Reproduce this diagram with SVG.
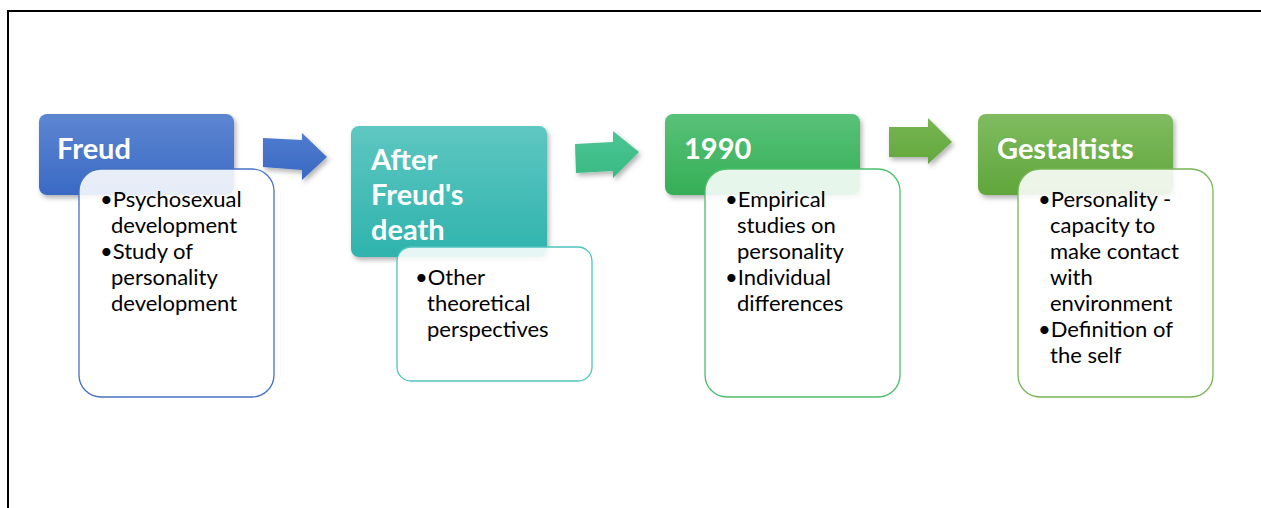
<svg xmlns="http://www.w3.org/2000/svg" width="1261" height="508" viewBox="0 0 1261 508">
<defs>
<linearGradient id="gBlue" x1="0" y1="0" x2="0" y2="1"><stop offset="0" stop-color="#5d86d1"/><stop offset="1" stop-color="#3a69c4"/></linearGradient>
<linearGradient id="gTeal" x1="0" y1="0" x2="0" y2="1"><stop offset="0" stop-color="#5ec7c1"/><stop offset="1" stop-color="#2fb3ad"/></linearGradient>
<linearGradient id="gGreen" x1="0" y1="0" x2="0" y2="1"><stop offset="0" stop-color="#58c278"/><stop offset="1" stop-color="#35ae57"/></linearGradient>
<linearGradient id="gLime" x1="0" y1="0" x2="0" y2="1"><stop offset="0" stop-color="#80bb60"/><stop offset="1" stop-color="#5fa63b"/></linearGradient>
<linearGradient id="aBlue" x1="0" y1="0" x2="0" y2="1"><stop offset="0" stop-color="#4f7ccf"/><stop offset="1" stop-color="#3a68c3"/></linearGradient>
<linearGradient id="aTeal" x1="0" y1="0" x2="0" y2="1"><stop offset="0" stop-color="#4cc595"/><stop offset="1" stop-color="#38ba82"/></linearGradient>
<linearGradient id="aLime" x1="0" y1="0" x2="0" y2="1"><stop offset="0" stop-color="#78b552"/><stop offset="1" stop-color="#62a83d"/></linearGradient>
<filter id="sh" x="-10%" y="-10%" width="125%" height="130%"><feDropShadow dx="2" dy="3" stdDeviation="2.5" flood-color="#000" flood-opacity="0.3"/></filter>
</defs>
<style>
.hd{font-family:Lato,"Liberation Sans",sans-serif;font-weight:bold;font-size:29px;fill:#fff}
.tx{font-family:Lato,"Liberation Sans",sans-serif;font-size:22px;fill:#000}
.body{fill:#fff;fill-opacity:0.88;stroke-width:1.3}
</style>
<rect width="1261" height="508" fill="#fff"/>
<path d="M8 508 V11 H1261" fill="none" stroke="#000" stroke-width="2"/>

<g id="connectors" filter="url(#sh)">
<path d="M263 138 L302 140 L302 133 L327 157 L302 180 L302 170 L263 167 Z" fill="url(#aBlue)"/>
<path d="M575 144 L613 142 L613 131 L639 152 L613 178 L613 171 L576 173 Z" fill="url(#aTeal)"/>
<path d="M889 127 L928 127 L928 118 L952 142 L928 164 L928 157 L889 157 Z" fill="url(#aLime)"/>
</g>

<g id="freud">
<rect x="39" y="114" width="195" height="81" rx="8" fill="url(#gBlue)" filter="url(#sh)"/>
<text class="hd" x="57" y="159">Freud</text>
<rect class="body" x="79" y="169" width="195" height="228" rx="22" stroke="#4472c4"/>
<text class="tx" x="100" y="207">•Psychosexual</text>
<text class="tx" x="111" y="233">development</text>
<text class="tx" x="100" y="259">•Study of</text>
<text class="tx" x="111" y="285">personality</text>
<text class="tx" x="111" y="311">development</text>
</g>

<g id="after">
<rect x="351" y="126" width="196" height="131" rx="8" fill="url(#gTeal)" filter="url(#sh)"/>
<text class="hd" x="371" y="170">After</text>
<text class="hd" x="371" y="205">Freud's</text>
<text class="hd" x="371" y="240">death</text>
<rect class="body" x="397" y="247" width="195" height="134" rx="14" stroke="#4fc4be"/>
<text class="tx" x="415" y="285">•Other</text>
<text class="tx" x="427" y="311">theoretical</text>
<text class="tx" x="427" y="337">perspectives</text>
</g>

<g id="y1990">
<rect x="665" y="114" width="195" height="81" rx="8" fill="url(#gGreen)" filter="url(#sh)"/>
<text class="hd" x="684" y="159">1990</text>
<rect class="body" x="705" y="169" width="195" height="228" rx="22" stroke="#4cbf6a"/>
<text class="tx" x="725" y="207">•Empirical</text>
<text class="tx" x="737" y="233">studies on</text>
<text class="tx" x="737" y="259">personality</text>
<text class="tx" x="725" y="285">•Individual</text>
<text class="tx" x="737" y="311">differences</text>
</g>

<g id="gestaltists">
<rect x="978" y="114" width="195" height="81" rx="8" fill="url(#gLime)" filter="url(#sh)"/>
<text class="hd" x="997" y="159">Gestaltists</text>
<rect class="body" x="1018" y="169" width="195" height="228" rx="22" stroke="#78b555"/>
<text class="tx" x="1038" y="207">•Personality -</text>
<text class="tx" x="1050" y="233">capacity to</text>
<text class="tx" x="1050" y="259">make contact</text>
<text class="tx" x="1050" y="285">with</text>
<text class="tx" x="1050" y="311">environment</text>
<text class="tx" x="1038" y="337">•Definition of</text>
<text class="tx" x="1050" y="363">the self</text>
</g>
</svg>
